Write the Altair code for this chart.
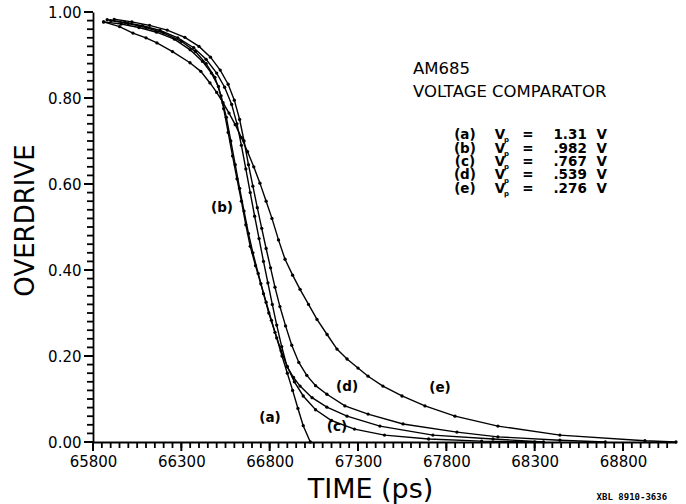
import altair as alt
import pandas as pd

# ---- data ----
t_a = [65860, 65960, 66060, 66160, 66260, 66350, 66420, 66470, 66510, 66540, 66565, 66590, 66615, 66640,
       66665, 66690, 66720, 66750, 66780, 66810, 66840, 66870, 66900, 66930, 66960, 66990, 67030]
v_a = [0.977, 0.972, 0.964, 0.953, 0.937, 0.912, 0.885, 0.858, 0.827, 0.775, 0.72, 0.665, 0.612, 0.56,
       0.505, 0.455, 0.41, 0.368, 0.325, 0.283, 0.242, 0.200, 0.160, 0.120, 0.078, 0.038, 0.0]

t_b = [65900, 66000, 66100, 66200, 66300, 66380, 66440, 66490, 66525, 66555, 66580, 66605, 66630, 66655,
       66680, 66705, 66735, 66765, 66795, 66830, 66865, 66900, 66940, 66990, 67060, 67150, 67280, 67450,
       67700, 68000, 68300]
v_b = [0.980, 0.973, 0.964, 0.951, 0.932, 0.908, 0.880, 0.848, 0.805, 0.755, 0.70, 0.645, 0.59, 0.537,
       0.485, 0.44, 0.392, 0.345, 0.30, 0.255, 0.212, 0.175, 0.14, 0.107, 0.075, 0.05, 0.03, 0.016,
       0.007, 0.002, 0.0]

t_c = [65880, 65980, 66080, 66180, 66280, 66370, 66440, 66500, 66545, 66585, 66615, 66640, 66665, 66690,
       66715, 66740, 66765, 66790, 66815, 66840, 66868, 66898, 66935, 66972, 67040, 67124, 67238, 67424,
       67724, 68064, 68350]
v_c = [0.982, 0.976, 0.968, 0.957, 0.940, 0.917, 0.890, 0.858, 0.825, 0.785, 0.74, 0.69, 0.635, 0.58,
       0.525, 0.473, 0.42, 0.37, 0.32, 0.272, 0.222, 0.176, 0.150, 0.130, 0.103, 0.081, 0.060, 0.037,
       0.016, 0.007, 0.0]

t_d = [65920, 66020, 66120, 66220, 66320, 66400, 66465, 66520, 66565, 66600, 66630, 66655, 66680, 66705,
       66730, 66755, 66780, 66805, 66830, 66858, 66890, 66925, 66965, 67010, 67060, 67124, 67226, 67357,
       67555, 67860, 68092, 68443, 68700]
v_d = [0.983, 0.977, 0.969, 0.958, 0.941, 0.920, 0.895, 0.865, 0.832, 0.795, 0.75, 0.70, 0.645, 0.595,
       0.545, 0.497, 0.45, 0.405, 0.36, 0.315, 0.27, 0.225, 0.185, 0.155, 0.131, 0.111, 0.084, 0.065,
       0.042, 0.023, 0.012, 0.004, 0.0]

t_e = [65860, 65950, 66026, 66100, 66162, 66250, 66349, 66410, 66462, 66500, 66536, 66570, 66605, 66640,
       66675, 66710, 66745, 66780, 66813, 66850, 66887, 66930, 66972, 67020, 67068, 67125, 67181, 67238,
       67300, 67357, 67441, 67549, 67679, 67849, 68092, 68443, 68924, 69100]
v_e = [0.977, 0.966, 0.951, 0.940, 0.928, 0.908, 0.882, 0.862, 0.835, 0.813, 0.789, 0.765, 0.738, 0.708,
       0.675, 0.64, 0.602, 0.56, 0.52, 0.47, 0.425, 0.388, 0.355, 0.32, 0.285, 0.25, 0.216, 0.193,
       0.172, 0.153, 0.130, 0.107, 0.084, 0.060, 0.037, 0.016, 0.003, 0.0]

series_names = ["a", "b", "c", "d", "e"]
legend_tags = ["(a)", "(b)", "(c)", "(d)", "(e)"]
legend_values = ["1.31", ".982", ".767", ".539", ".276"]

x_major = [65800, 66300, 66800, 67300, 67800, 68300, 68800]
y_major = [0.0, 0.2, 0.4, 0.6, 0.8, 1.0]
x_minor = list(range(65800, 69051, 50))
y_minor = [round(i * 0.02, 2) for i in range(51)]

FONT = "DejaVu Sans"

rows = []
for name, ts, vs in zip(series_names, [t_a, t_b, t_c, t_d, t_e], [v_a, v_b, v_c, v_d, v_e]):
    for t, v in zip(ts, vs):
        rows.append({"series": name, "t": t, "v": v})
df = pd.DataFrame(rows)

xscale = alt.Scale(domain=[65800, 69100], nice=False, zero=False)
yscale = alt.Scale(domain=[0, 1], nice=False)

xaxis = alt.Axis(
    values=x_major, format="d", ticks=False,
    domainColor="black", domainWidth=1.8,
    labelFont=FONT, labelFontSize=15, labelColor="black", labelPadding=12,
    labelOverlap=False, labelFlush=False, grid=False,
    title="TIME (ps)", titleFont=FONT, titleFontSize=27, titleFontWeight="normal",
    titleColor="black", titleX=277, titleY=55, titleAnchor="middle", titleBaseline="alphabetic",
)
yaxis = alt.Axis(
    values=y_major, format=".2f", ticks=False,
    domainColor="black", domainWidth=1.8,
    labelFont=FONT, labelFontSize=15, labelColor="black", labelPadding=12,
    labelOverlap=False, labelFlush=False, grid=False,
    title="OVERDRIVE", titleFont=FONT, titleFontSize=26, titleFontWeight="normal",
    titleColor="black", titleX=-68, titleY=208, titleAngle=270, titleAlign="center",
    titleBaseline="middle",
)

X = alt.X("t:Q", scale=xscale, axis=xaxis)
Y = alt.Y("v:Q", scale=yscale, axis=yaxis)

base = alt.Chart(df)
lines = base.mark_line(color="black", strokeWidth=1.4).encode(x=X, y=Y, detail="series:N")
points = base.mark_circle(color="black", size=11, opacity=1).encode(x=X, y=Y)

# tick marks drawn through the scales
def xticks(vals, length, width):
    return alt.Chart(pd.DataFrame({"t": vals})).mark_tick(
        color="black", thickness=width, size=length, orient="vertical", opacity=1
    ).encode(x=X, y=alt.value(430 + length / 2))

def yticks(vals, length, width):
    return alt.Chart(pd.DataFrame({"v": vals})).mark_tick(
        color="black", thickness=width, size=length, orient="horizontal", opacity=1
    ).encode(y=Y, x=alt.value(-length / 2))

# ---- annotations (placed in data coordinates) ----
def txt(df_, size, weight="normal", align="left", font=FONT, baseline="middle"):
    return alt.Chart(df_).mark_text(
        font=font, fontSize=size, fontWeight=weight, align=align, baseline=baseline, color="black"
    ).encode(x=X, y=Y, text="s:N")

title_df = pd.DataFrame({"t": [67611, 67611], "v": [0.867, 0.815], "s": ["AM685", "VOLTAGE COMPARATOR"]})
leg_v = [0.714, 0.682, 0.651, 0.620, 0.589]
tag_df = pd.DataFrame({"t": [67905] * 5, "v": leg_v, "s": legend_tags})
V_df = pd.DataFrame({"t": [68103] * 5, "v": leg_v, "s": ["V"] * 5})
p_df = pd.DataFrame({"t": [68140] * 5, "v": [x - 0.012 for x in leg_v], "s": ["p"] * 5})
eq_df = pd.DataFrame({"t": [68262] * 5, "v": leg_v, "s": ["="] * 5})
val_df = pd.DataFrame({"t": [68595] * 5, "v": leg_v, "s": legend_values})
unit_df = pd.DataFrame({"t": [68680] * 5, "v": leg_v, "s": ["V"] * 5})

curve_lab_df = pd.DataFrame({
    "t": [66530, 66802, 67181, 67238, 67764],
    "v": [0.544, 0.056, 0.035, 0.128, 0.126],
    "s": ["(b)", "(a)", "(c)", "(d)", "(e)"],
})
xbl_df = pd.DataFrame({"t": [68850], "v": [-0.128], "s": ["XBL 8910-3636"]})

chart = alt.layer(
    lines, points,
    xticks(x_minor, 6, 1.8), xticks(x_major, 9, 2),
    yticks(y_minor, 6, 1.8), yticks(y_major, 9, 2),
    txt(title_df, 16.5),
    txt(tag_df, 13.5, "bold", "center"),
    txt(V_df, 13.5, "bold", "center"),
    txt(p_df, 7, "bold", "center"),
    txt(eq_df, 13.5, "bold", "center"),
    txt(val_df, 13.5, "bold", "right"),
    txt(unit_df, 13.5, "bold", "center"),
    txt(curve_lab_df, 13.5, "bold", "center"),
    txt(xbl_df, 9, "bold", "center", font="DejaVu Sans Mono"),
).properties(
    width=583, height=430,
    padding={"left": 93, "top": 12, "right": 10, "bottom": 62},
    autosize=alt.AutoSizeParams(type="none"),
).configure(background="white").configure_view(stroke=None)

chart.save("out.html", embed_options={"renderer": "svg", "actions": False})
